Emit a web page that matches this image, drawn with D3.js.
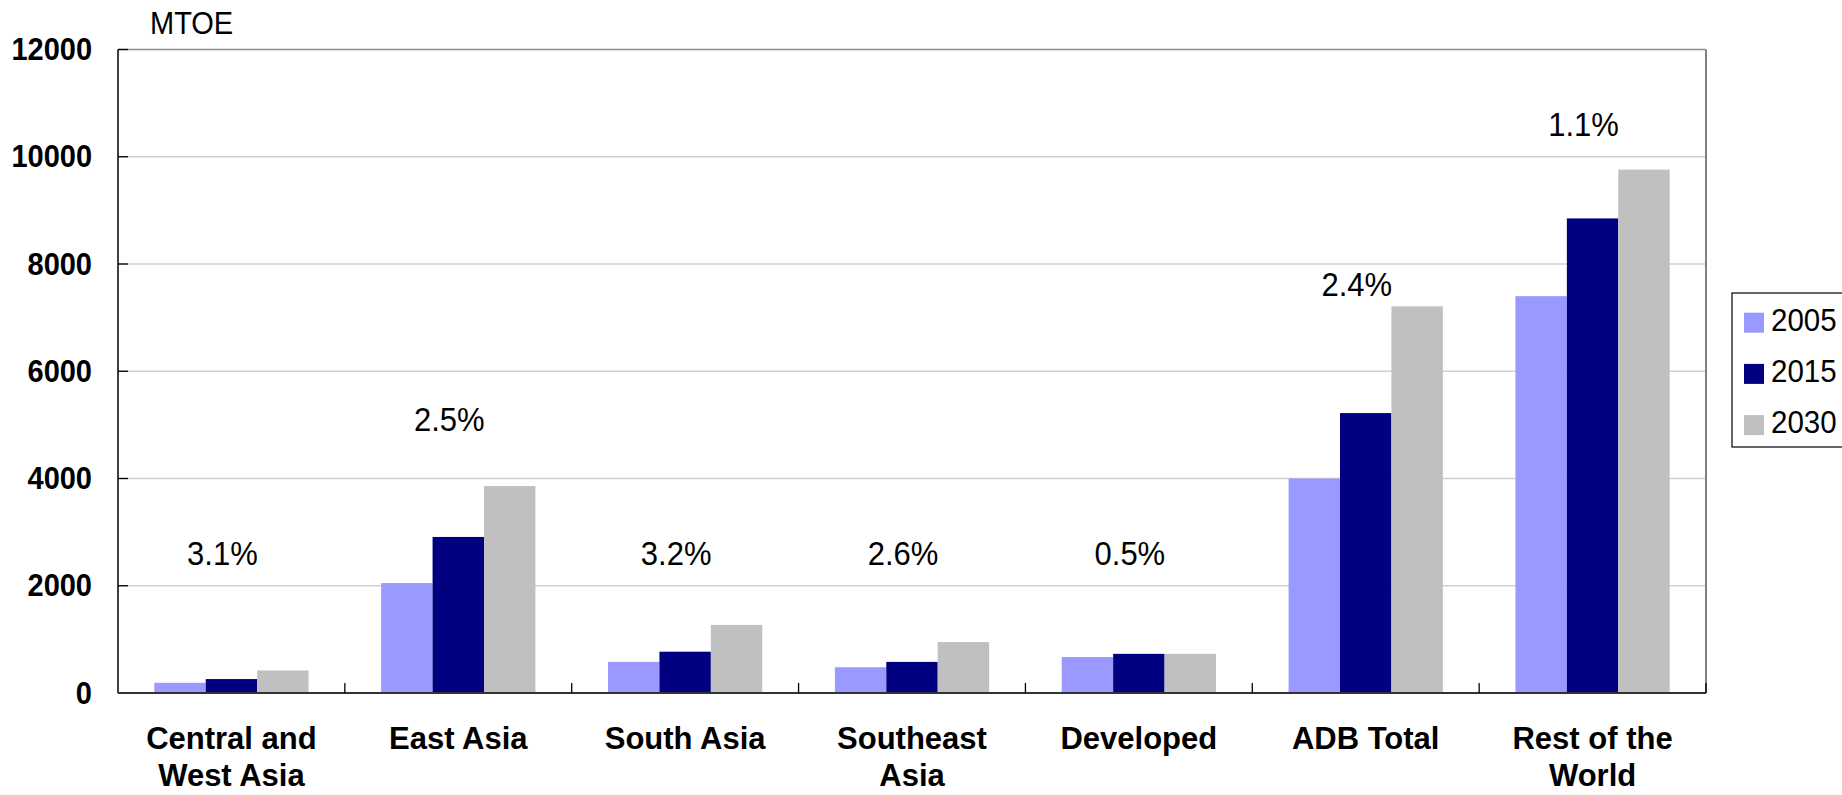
<!DOCTYPE html>
<html><head><meta charset="utf-8">
<script src="https://cdn.jsdelivr.net/npm/d3@7"></script>
<style>html,body{margin:0;padding:0;background:#fff;overflow:hidden}svg{display:block}text{font-family:"Liberation Sans",Arial,sans-serif;fill:#000}</style>
</head><body>
<svg id="chart" width="1842" height="795"></svg>
<script>
const categories = ["Central and West Asia","East Asia","South Asia","Southeast Asia","Developed","ADB Total","Rest of the World"];
const categoryLines = [["Central and","West Asia"],["East Asia"],["South Asia"],["Southeast","Asia"],["Developed"],["ADB Total"],["Rest of the","World"]];
const seriesNames = ["2005","2015","2030"];
const values2005 = [190, 2050, 580, 480, 670, 4000, 7400];
const values2015 = [260, 2910, 770, 580, 730, 5220, 8850];
const values2030 = [420, 3860, 1270, 950, 730, 7210, 9760];
const growthLabels = ["3.1%","2.5%","3.2%","2.6%","0.5%","2.4%","1.1%"];
const growthLabelLevel = [2600, 5100, 2600, 2600, 2600, 7600, 10600];
const yTicks = [0, 2000, 4000, 6000, 8000, 10000, 12000];
const unitLabel = "MTOE";

const colors = {"2005":"#9999FF","2015":"#000080","2030":"#C0C0C0"};
const seriesValues = {"2005":values2005,"2015":values2015,"2030":values2030};

const svg = d3.select("#chart");
const L = 118, R = 1706, T = 49.5, B = 693;
const sy = 1.07;

const x0 = d3.scaleBand().domain(categories).range([L, R]).paddingInner(0.32).paddingOuter(0.16);
const x1 = d3.scaleBand().domain(seriesNames).range([0, x0.bandwidth()]).padding(0);
const y = d3.scaleLinear().domain([0, 12000]).range([B, T]);

// gridlines
svg.append("g").selectAll("line").data(yTicks.filter(d => d > 0 && d < 12000)).join("line")
  .attr("x1", L).attr("x2", R).attr("y1", d => y(d)).attr("y2", d => y(d))
  .attr("stroke", "#d0d0d0").attr("stroke-width", 1.3);

// top and right border
svg.append("line").attr("x1", L).attr("x2", R).attr("y1", y(12000)).attr("y2", y(12000)).attr("stroke", "#8c8c8c").attr("stroke-width", 1.5);
svg.append("line").attr("x1", R).attr("x2", R).attr("y1", y(12000)).attr("y2", B).attr("stroke", "#808080").attr("stroke-width", 2);

// bars
const rows = categories.map((c, i) => ({c, i}));
const groups = svg.append("g").selectAll("g").data(rows).join("g")
  .attr("transform", d => `translate(${x0(d.c)},0)`);
groups.selectAll("rect").data(d => seriesNames.map(s => ({s, v: seriesValues[s][d.i]}))).join("rect")
  .attr("x", d => x1(d.s)).attr("width", x1.bandwidth())
  .attr("y", d => y(d.v)).attr("height", d => y(0) - y(d.v))
  .attr("fill", d => colors[d.s]);

// y axis
svg.append("line").attr("x1", L).attr("x2", L).attr("y1", T).attr("y2", B).attr("stroke", "#000").attr("stroke-width", 1.5);
svg.append("g").selectAll("line").data(yTicks).join("line")
  .attr("x1", L).attr("x2", L + 10).attr("y1", d => y(d)).attr("y2", d => y(d)).attr("stroke", "#000").attr("stroke-width", 1.3);
svg.append("g").selectAll("text").data(yTicks).join("text")
  .attr("transform", d => `translate(92,${y(d) + 10.5}) scale(1,${sy})`)
  .attr("text-anchor", "end").attr("font-size", 29).attr("font-weight", "bold")
  .text(d => d3.format("d")(d));

// x axis
svg.append("line").attr("x1", L).attr("x2", R).attr("y1", B).attr("y2", B).attr("stroke", "#333").attr("stroke-width", 2);
const step = x0.step();
svg.append("g").selectAll("line").data(d3.range(1, categories.length + 1)).join("line")
  .attr("x1", i => L + i * step).attr("x2", i => L + i * step)
  .attr("y1", B).attr("y2", B - 10).attr("stroke", "#000").attr("stroke-width", 1.3);

// category labels
const catG = svg.append("g");
rows.forEach(d => {
  const cx = x0(d.c) + x0.bandwidth() / 2;
  categoryLines[d.i].forEach((line, k) => {
    catG.append("text")
      .attr("x", cx).attr("y", 749 + k * 37)
      .attr("text-anchor", "middle").attr("font-size", 31).attr("font-weight", "bold")
      .text(line);
  });
});

// growth labels
svg.append("g").selectAll("text").data(rows).join("text")
  .attr("transform", d => `translate(${x0(d.c) + x0.bandwidth() / 2 - 9},${y(growthLabelLevel[d.i]) + 11}) scale(1,${sy})`)
  .attr("text-anchor", "middle").attr("font-size", 31)
  .text(d => growthLabels[d.i]);

// unit label
svg.append("text").attr("transform", `translate(150,34) scale(1,${sy})`).attr("font-size", 29).text(unitLabel);

// legend
const lg = svg.append("g");
lg.append("rect").attr("x", 1732).attr("y", 293).attr("width", 130).attr("height", 154)
  .attr("fill", "#fff").attr("stroke", "#000").attr("stroke-width", 1.2);
seriesNames.forEach((s, k) => {
  const yy = 312.7 + k * 51.2;
  lg.append("rect").attr("x", 1744).attr("y", yy).attr("width", 20).attr("height", 20).attr("fill", colors[s]);
  lg.append("text").attr("transform", `translate(1771,${yy + 18}) scale(1,${sy})`).attr("font-size", 29.5).text(s);
});
</script>
</body></html>
